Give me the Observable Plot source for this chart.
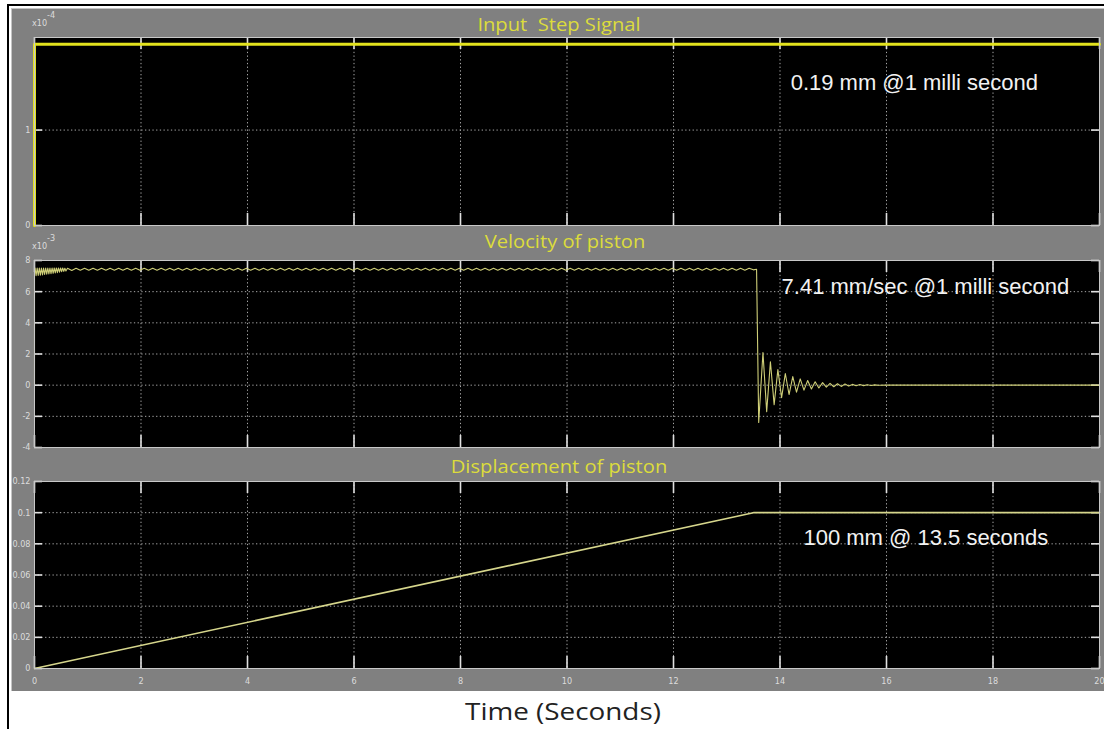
<!DOCTYPE html>
<html>
<head>
<meta charset="utf-8">
<script src="https://cdn.jsdelivr.net/npm/d3@7"></script>
<script src="https://cdn.jsdelivr.net/npm/@observablehq/plot@0.6"></script>
<style>
  html, body { margin: 0; padding: 0; background: #ffffff; }
  #root { position: relative; width: 1104px; height: 729px; overflow: hidden; background: #ffffff; }
  .abs { position: absolute; }
  .title { position: absolute; font-family: "Open Sans", sans-serif; font-size: 18px; color: #dcdc3c; white-space: pre; transform: translate(-50%, -50%) scaleX(1.12); }
  .expo { position: absolute; font-family: "DejaVu Sans Condensed", "DejaVu Sans", sans-serif; font-size: 9px; color: #dcdcdc; white-space: nowrap; }
  .expo sup { font-size: 9px; position: relative; top: -4px; }
</style>
</head>
<body>
<div id="root"></div>
<script>
// ---------- data ----------
const xDomain = [0, 20];
const xTicks = [0, 2, 4, 6, 8, 10, 12, 14, 16, 18, 20];

// Input step signal (x1e-4 m)
const inputT = [0, 0, 20];
const inputV = [0, 1.9, 1.9];
const inputYTicks = [0, 1];
const inputYLabels = ["0", "1"];

// Velocity of piston (x1e-3 m/s)
const velRiseT = [0, 0];
const velRiseV = [0, 7.3];
const velBandStart = 0.01, velBandStep = 0.02;
const velBandV = [7.52,7.02,7.52,7.04,7.52,7.06,7.52,7.08,7.52,7.10,7.52,7.12,7.52,7.14,7.52,7.16,7.52,7.18,7.52,7.20,7.52,7.22,7.52,7.25,7.52,7.28,7.52,7.30,7.50,7.33];
const velRippleStart = 0.62, velRippleStep = 0.08;
const velRippleV = [
  7.50,7.36,7.50,7.37,7.50,7.37,7.50,7.38,7.50,7.38,7.50,7.38,7.50,7.38,7.50,7.38,7.50,7.38,7.50,7.38,
  7.50,7.38,7.50,7.38,7.50,7.38,7.50,7.38,7.50,7.38,7.50,7.38,7.50,7.38,7.50,7.38,7.50,7.38,7.50,7.38,
  7.50,7.38,7.50,7.38,7.50,7.38,7.50,7.38,7.50,7.38,7.50,7.38,7.50,7.38,7.50,7.38,7.50,7.38,7.50,7.38,
  7.50,7.38,7.50,7.38,7.50,7.38,7.50,7.38,7.50,7.38,7.50,7.38,7.50,7.38,7.50,7.38,7.50,7.38,7.50,7.38,
  7.50,7.38,7.50,7.38,7.50,7.38,7.50,7.38,7.50,7.38,7.50,7.38,7.50,7.38,7.50,7.38,7.50,7.38,7.50,7.38,
  7.50,7.38,7.50,7.38,7.50,7.38,7.50,7.38,7.50,7.38,7.50,7.38,7.50,7.38,7.50,7.38,7.50,7.38,7.50,7.38,
  7.50,7.38,7.50,7.38,7.50,7.38,7.50,7.38,7.50,7.38,7.50,7.38,7.50,7.38,7.50,7.38,7.50,7.38,7.50,7.38,
  7.50,7.38,7.50,7.38,7.50,7.38,7.50,7.38,7.50,7.38,7.50,7.38,7.50,7.38,7.50,7.38,7.50,7.38,7.50,7.38,
  7.50,7.40
];
const velRingT = [13.56,13.60,13.68,13.75,13.82,13.89,13.96,14.03,14.10,14.17,14.24,14.31,14.38,14.45,14.52,14.59,14.66,14.73,14.80,14.87,14.94,15.01,15.08,15.15,15.22,15.29,15.36,15.43,15.50,15.57,15.64,15.71,15.78,15.85,16.0,20];
const velRingV = [7.44,-2.4,2.1,-1.7,1.5,-1.25,1.0,-0.8,0.75,-0.6,0.55,-0.45,0.4,-0.32,0.3,-0.24,0.22,-0.18,0.16,-0.13,0.12,-0.1,0.09,-0.08,0.07,-0.06,0.05,-0.04,0.04,-0.03,0.03,-0.02,0.02,-0.01,0,0];
const velYTicks = [-4, -2, 0, 2, 4, 6, 8];
const velYLabels = ["-4", "-2", "0", "2", "4", "6", "8"];

// Displacement of piston (m)
const dispT = [0, 13.5, 20];
const dispV = [0, 0.1, 0.1];
const dispYTicks = [0, 0.02, 0.04, 0.06, 0.08, 0.1, 0.12];
const dispYLabels = ["0", "0.02", "0.04", "0.06", "0.08", "0.1", "0.12"];
const xTickLabels = ["0","2","4","6","8","10","12","14","16","18","20"];

// texts
const titles = ["Input  Step Signal", "Velocity of piston", "Displacement of piston"];
const notes = ["0.19 mm @1 milli second", "7.41 mm/sec @1 milli second", "100 mm @ 13.5 seconds"];
const axisTitle = "Time (Seconds)";

// ---------- build tables ----------
const zip = (T, V) => T.map((t, i) => ({t, v: V[i]}));
const stepped = (start, step, V) => V.map((v, i) => ({t: start + i * step, v}));
const inputData = zip(inputT, inputV);
const velData = [
  ...zip(velRiseT, velRiseV),
  ...stepped(velBandStart, velBandStep, velBandV),
  ...stepped(velRippleStart, velRippleStep, velRippleV),
  ...zip(velRingT, velRingV)
];
const dispData = zip(dispT, dispV);

// ---------- layout ----------
const W = 1104, ML = 34, MR = 5;
const root = document.getElementById("root");

function addDiv(style, cls, html) {
  const d = document.createElement("div");
  if (cls) d.className = cls;
  Object.assign(d.style, style);
  if (html !== undefined) d.innerHTML = html;
  root.appendChild(d);
  return d;
}

// frame of the scope window
addDiv({left: "11px", top: "8px", width: (W - 11) + "px", height: "683px", background: "#808080", borderTop: "1px solid #c4c4c4", borderLeft: "1px solid #c4c4c4", boxSizing: "border-box"}, "abs");
addDiv({left: "7px", top: "4px", width: (W - 7) + "px", height: "2px", background: "#000"}, "abs");
addDiv({left: "7px", top: "4px", width: "2px", height: "725px", background: "#000"}, "abs");

const gridStyle = {stroke: "#a8a8a8", strokeDasharray: "1.3,2.4", strokeWidth: 1};
const tickStyle = {stroke: "#e0e0e0", strokeWidth: 1.6};
const fontTick = "DejaVu Sans Condensed, DejaVu Sans, sans-serif";

function panel(cfg) {
  const plotH = cfg.height - cfg.marginTop - cfg.marginBottom;
  const plotW = W - ML - MR;
  const [y0, y1] = cfg.yDomain;
  const tx = 8 * (xDomain[1] - xDomain[0]) / plotW;
  const ty = 12 * (y1 - y0) / plotH;
  const yInner = cfg.yTicks.filter(v => v > y0 && v < y1);
  const xInner = xTicks.filter(v => v > xDomain[0] && v < xDomain[1]);
  const yEdge = cfg.yTicks.filter(v => v >= y0 && v <= y1);
  const labelOf = (ticks, labels) => d => labels[ticks.indexOf(d)];
  const marks = [
    Plot.frame({fill: "#000"}),
    Plot.ruleY(yInner, {...gridStyle}),
    Plot.ruleX(xInner, {...gridStyle}),
    Plot.ruleY(yEdge, {x1: xDomain[0], x2: xDomain[0] + tx, ...tickStyle}),
    Plot.ruleY(yEdge, {x1: xDomain[1] - tx, x2: xDomain[1], ...tickStyle}),
    Plot.ruleX(xTicks, {y1: y0, y2: y0 + ty, ...tickStyle}),
    Plot.ruleX(xTicks, {y1: y1 - ty, y2: y1, ...tickStyle}),
    Plot.line(cfg.data, {x: "t", y: "v", stroke: cfg.stroke, strokeWidth: cfg.strokeWidth, curve: "linear"}),
    Plot.frame({stroke: "#c8c8c8", strokeWidth: 1}),
    Plot.axisY(cfg.yTicks, {anchor: "left", tickSize: 0, tickPadding: 4, label: null, tickFormat: labelOf(cfg.yTicks, cfg.yLabels), fill: "#dcdcdc", fontSize: 9, fontFamily: fontTick}),
    Plot.text([cfg.note], {x: () => cfg.noteAt[0], y: () => cfg.noteAt[1], text: d => d, textAnchor: "start", lineAnchor: "middle", fill: "#f2f2f2", fontSize: 22, fontFamily: "Liberation Sans, Arial, sans-serif"})
  ];
  if (cfg.showX) {
    marks.push(Plot.axisX(xTicks, {anchor: "bottom", tickSize: 0, tickPadding: 9, label: null, tickFormat: labelOf(xTicks, xTickLabels), fill: "#dcdcdc", fontSize: 9, fontFamily: fontTick}));
  }
  const svg = Plot.plot({
    width: W, height: cfg.height,
    marginLeft: ML, marginRight: MR, marginTop: cfg.marginTop, marginBottom: cfg.marginBottom,
    x: {domain: xDomain, label: null, ...(cfg.showX ? {} : {axis: null})},
    y: {domain: cfg.yDomain, label: null},
    style: {background: "transparent", overflow: "visible"},
    marks
  });
  const wrap = addDiv({left: "0px", top: cfg.top + "px", width: W + "px", height: cfg.height + "px"}, "abs");
  wrap.appendChild(svg);
}

panel({top: 8, height: 224, marginTop: 29, marginBottom: 7, yDomain: [0, 1.97], yTicks: inputYTicks, yLabels: inputYLabels,
  data: inputData, stroke: "#e2e21e", strokeWidth: 3, note: notes[0], noteAt: [14.2, 1.49]});
panel({top: 232, height: 222, marginTop: 28, marginBottom: 7, yDomain: [-4, 8], yTicks: velYTicks, yLabels: velYLabels,
  data: velData, stroke: "#cfcf78", strokeWidth: 1.1, note: notes[1], noteAt: [14.03, 6.3]});
panel({top: 454, height: 237, marginTop: 27, marginBottom: 23, yDomain: [0, 0.12], yTicks: dispYTicks, yLabels: dispYLabels,
  data: dispData, stroke: "#d6d68c", strokeWidth: 1.6, note: notes[2], noteAt: [14.44, 0.084], showX: true});

// titles
addDiv({left: "559px", top: "24px"}, "title", titles[0]);
addDiv({left: "565px", top: "241px"}, "title", titles[1]);
addDiv({left: "559px", top: "466px"}, "title", titles[2]);

// exponent labels
addDiv({left: "32px", top: "14px"}, "expo", "x10<sup>-4</sup>");
addDiv({left: "32px", top: "237px"}, "expo", "x10<sup>-3</sup>");

// x axis title
addDiv({left: "563px", top: "710px", fontFamily: "Open Sans, sans-serif", fontSize: "24px", color: "#222", whiteSpace: "nowrap", transform: "translate(-50%, -50%) scaleX(1.16)"}, "abs", axisTitle);
</script>
</body>
</html>
